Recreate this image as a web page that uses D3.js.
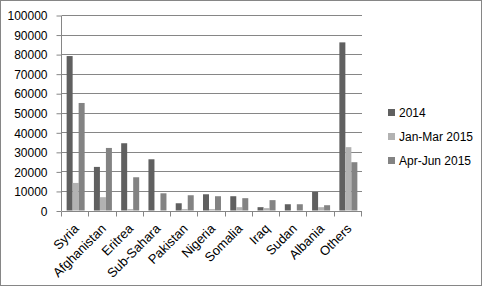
<!DOCTYPE html>
<html>
<head>
<meta charset="utf-8">
<script src="https://cdn.jsdelivr.net/npm/d3@7"></script>
<style>
  body { margin: 0; background: #fff; }
  text { font-family: "Liberation Sans", Arial, sans-serif; font-size: 12px; fill: #000; }
</style>
</head>
<body>
<div id="chart-area"></div>
<script>
var categories = ["Syria", "Afghanistan", "Eritrea", "Sub-Sahara", "Pakistan", "Nigeria", "Somalia", "Iraq", "Sudan", "Albania", "Others"];
var seriesNames = ["2014", "Jan-Mar 2015", "Apr-Jun 2015"];
var values2014 = [79000, 22300, 34400, 26200, 3700, 8300, 7300, 1700, 3200, 9500, 86000];
var valuesJanMar = [14100, 6800, 700, 0, 700, 700, 1700, 1200, 0, 1700, 32400];
var valuesAprJun = [55000, 32000, 17000, 8800, 7800, 7300, 6300, 5300, 3200, 2700, 24700];
var yTicks = [0, 10000, 20000, 30000, 40000, 50000, 60000, 70000, 80000, 90000, 100000];
var colors = ["#606060", "#b2b2b2", "#838383"];

var seriesValues = [values2014, valuesJanMar, valuesAprJun];

var svg = d3.select("#chart-area")
  .append("svg")
  .attr("width", 482)
  .attr("height", 286);

svg.append("rect")
  .attr("x", 0.5).attr("y", 0.5)
  .attr("width", 481).attr("height", 285)
  .attr("fill", "#fff")
  .attr("stroke", "#868686");

var plotLeft = 62, plotRight = 362, plotTop = 15, plotBottom = 210.5;

var x0 = d3.scaleBand()
  .domain(categories)
  .range([plotLeft, plotRight]);

var bw = x0.bandwidth();
var x1 = d3.scaleBand()
  .domain(d3.range(3))
  .range([bw * 0.17, bw * 0.83]);

var y = d3.scaleLinear()
  .domain([0, 100000])
  .range([plotBottom, plotTop]);

// gridlines
svg.append("g")
  .selectAll("line")
  .data(yTicks)
  .enter()
  .append("line")
  .attr("x1", plotLeft)
  .attr("x2", plotRight)
  .attr("y1", d => Math.round(y(d)) + 0.5)
  .attr("y2", d => Math.round(y(d)) + 0.5)
  .attr("stroke", "#868686");

// bars
var groups = svg.append("g")
  .selectAll("g")
  .data(categories)
  .enter()
  .append("g")
  .attr("transform", d => "translate(" + x0(d) + ",0)");

groups.selectAll("rect")
  .data((d, i) => seriesValues.map((s, k) => ({ k: k, v: s[i] })))
  .enter()
  .append("rect")
  .attr("x", d => x1(d.k))
  .attr("y", d => y(d.v))
  .attr("width", x1.bandwidth())
  .attr("height", d => plotBottom - y(d.v))
  .attr("fill", d => colors[d.k]);

// y axis
var yAxisCall = d3.axisLeft(y)
  .tickValues(yTicks)
  .tickSize(5)
  .tickPadding(9)
  .tickFormat(d => d);
var yAxis = svg.append("g")
  .attr("class", "y axis")
  .attr("transform", "translate(" + (plotLeft - 0.5) + ",0.5)")
  .call(yAxisCall);
yAxis.select(".domain").attr("stroke", "#868686").attr("d", "M0," + plotTop + "V" + plotBottom);
yAxis.selectAll(".tick line").attr("stroke", "#868686");
yAxis.selectAll("text").style("font-size", "12px").attr("dy", "0.35em");

// x axis
var xAxis = svg.append("g")
  .attr("class", "x axis")
  .attr("transform", "translate(0," + (Math.round(plotBottom) + 0.5) + ")");
xAxis.append("line")
  .attr("x1", plotLeft).attr("x2", plotRight)
  .attr("stroke", "#868686");
xAxis.selectAll(".xtick")
  .data(categories.concat([null]))
  .enter()
  .append("line")
  .attr("x1", d => Math.round(d ? x0(d) : plotRight) - 0.5)
  .attr("x2", d => Math.round(d ? x0(d) : plotRight) - 0.5)
  .attr("y1", 0).attr("y2", 5)
  .attr("stroke", "#868686");
xAxis.selectAll(".xlabel")
  .data(categories)
  .enter()
  .append("text")
  .attr("text-anchor", "end")
  .style("font-size", "13px")
  .attr("transform", d => "translate(" + (x0(d) + bw / 2 + 4) + ",18) rotate(-45)")
  .text(d => d);

// legend
var legend = svg.append("g")
  .selectAll("g")
  .data(seriesNames)
  .enter()
  .append("g")
  .attr("transform", (d, i) => "translate(388," + (113 + i * 24) + ")");
legend.append("rect")
  .attr("x", 0).attr("y", -4)
  .attr("width", 7).attr("height", 7)
  .attr("fill", (d, i) => colors[i]);
legend.append("text")
  .attr("x", 11)
  .attr("y", 0)
  .attr("dy", "0.35em")
  .text(d => d);
</script>
</body>
</html>
